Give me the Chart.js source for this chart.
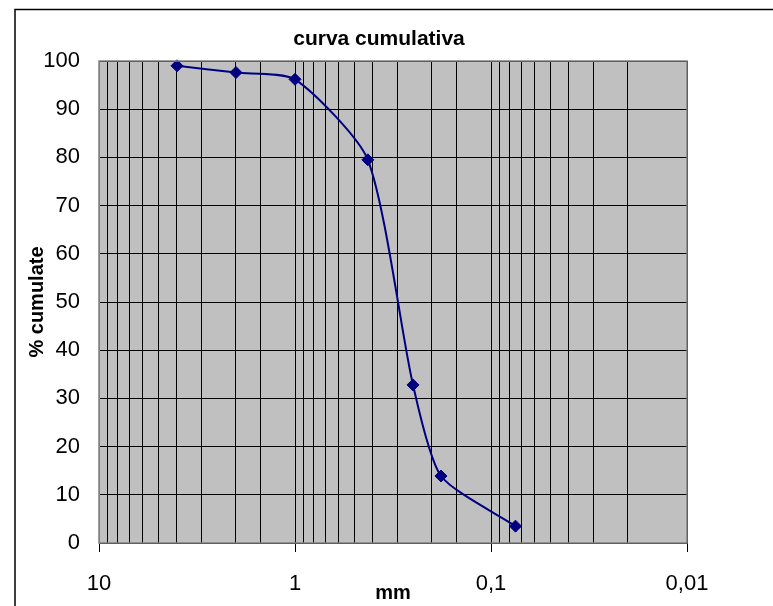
<!DOCTYPE html>
<html>
<head>
<meta charset="utf-8">
<script src="https://cdn.jsdelivr.net/npm/chart.js@4"></script>
<style>
  html, body { margin: 0; padding: 0; background: #fff; }
  #wrap { width: 773px; height: 606px; position: relative; }
</style>
</head>
<body>
<div id="wrap"><canvas id="curva"></canvas></div>
<script>
// sieve sizes (mm) and cumulative passing (%)
const sizes = [4, 2, 1, 0.425, 0.25, 0.18, 0.075];
const cumulative = [99.0, 97.6, 96.2, 79.5, 32.8, 13.9, 3.5];
const chartTitle = 'curva cumulativa';
const xTitle = 'mm';
const yTitle = '% cumulate';

const fontFam = '"Liberation Sans", Arial, sans-serif';

function isDecade(v) {
    const l = Math.log10(v);
    return Math.abs(l - Math.round(l)) < 1e-6;
}

// grey plot background, plot border, outer frame and title
const frame = {
    id: 'frame',
    beforeDraw(chart) {
        const { ctx, chartArea: a } = chart;
        ctx.save();
        ctx.fillStyle = '#c0c0c0';
        ctx.fillRect(a.left, a.top, a.right - a.left, a.bottom - a.top);
        ctx.strokeStyle = '#000';
        ctx.lineWidth = 1.5;
        ctx.strokeRect(15, 9.5, 800, 700);
        ctx.restore();
    },
    afterDatasetsDraw(chart) {
        const { ctx, chartArea: a } = chart;
        ctx.save();
        ctx.strokeStyle = '#808080';
        ctx.lineWidth = 1.5;
        ctx.strokeRect(a.left, a.top, a.right - a.left, a.bottom - a.top);
        ctx.fillStyle = '#000';
        ctx.font = 'bold 21px ' + fontFam;
        ctx.textAlign = 'center';
        ctx.textBaseline = 'alphabetic';
        ctx.fillText(chartTitle, 379, 45);
        ctx.restore();
    }
};

const ctx = document.getElementById('curva').getContext('2d');
const chart = new Chart(ctx, {
    type: 'scatter',
    data: {
        datasets: [{
            data: sizes.map((s, i) => ({ x: s, y: cumulative[i] })),
            showLine: true,
            borderColor: '#000080',
            backgroundColor: '#000080',
            borderWidth: 2,
            tension: 0.22,
            pointStyle: 'rectRot',
            pointRadius: 6,
            pointBorderWidth: 1,
            clip: false
        }]
    },
    options: {
        responsive: true,
        maintainAspectRatio: false,
        animation: false,
        layout: { padding: { top: 61, right: 86, left: 0, bottom: 0 } },
        plugins: {
            legend: { display: false },
            tooltip: { enabled: false }
        },
        scales: {
            x: {
                type: 'logarithmic',
                reverse: true,
                min: 0.01,
                max: 10,
                afterFit: s => { s.height = 63; },
                border: { color: '#000', width: 1 },
                grid: {
                    color: '#000',
                    lineWidth: 1,
                    tickLength: 9,
                    tickColor: c => (c.tick && isDecade(c.tick.value)) ? '#000' : 'rgba(0,0,0,0)'
                },
                ticks: {
                    autoSkip: false,
                    maxRotation: 0,
                    padding: 19,
                    color: '#000',
                    font: { family: fontFam, size: 22 },
                    callback: v => isDecade(v) ? String(+v.toPrecision(3)).replace('.', ',') : ''
                },
                title: {
                    display: true,
                    text: xTitle,
                    color: '#000',
                    font: { family: fontFam, size: 20, weight: 'bold' },
                    padding: { top: 0, bottom: 1 }
                }
            },
            y: {
                min: 0,
                max: 100,
                afterFit: s => { s.width = 99; },
                border: { color: '#808080', width: 1 },
                grid: { color: '#000', lineWidth: 1, drawTicks: false },
                ticks: {
                    stepSize: 10,
                    padding: 19,
                    color: '#000',
                    font: { family: fontFam, size: 22 }
                },
                title: {
                    display: true,
                    text: yTitle,
                    color: '#000',
                    font: { family: fontFam, size: 20, weight: 'bold' },
                    padding: { top: 25, bottom: 0 }
                }
            }
        }
    },
    plugins: [frame]
});
</script>
</body>
</html>
